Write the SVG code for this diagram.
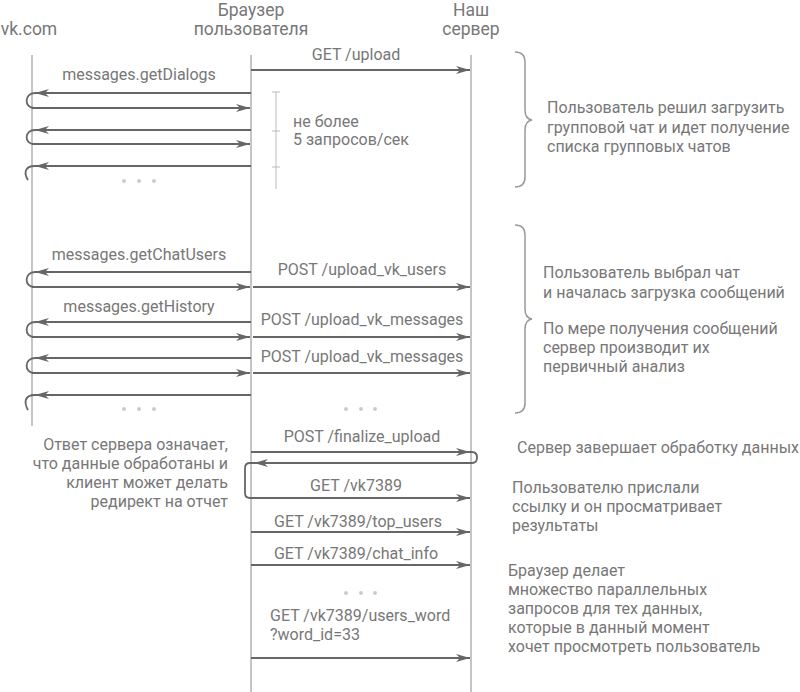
<svg xmlns="http://www.w3.org/2000/svg" width="800" height="692" viewBox="0 0 800 692">
<style>
text{font-family:Roboto,"Liberation Sans",sans-serif;fill:#777;font-size:16px}
.hd{font-size:17.5px}
.life{stroke:#8a8a8a;stroke-width:1;fill:none}
.ar{stroke:#666;stroke-width:1.8;fill:none}
.cu{stroke:#666;stroke-width:1.8;fill:none}
.tick{stroke:#bbb;stroke-width:1;fill:none}
.br{stroke:#999;stroke-width:1.5;fill:none}
.dot{fill:#ccc}
.m{text-anchor:middle}
.e{text-anchor:end}
</style>
<defs>
<marker id="ah" viewBox="0 0 14 8" refX="14" refY="4" markerWidth="14" markerHeight="8" markerUnits="userSpaceOnUse" orient="auto"><path d="M0,0 L14,4 L0,8 L4,4 z" fill="#666"/></marker>
</defs>
<g id="vk"><text class="hd m" x="29" y="35">vk.com</text><line class="life" x1="32" y1="55" x2="32" y2="426"/></g>
<g id="browser"><text class="hd m" x="251" y="16">Браузер</text><text class="hd m" x="251" y="35">пользователя</text><line class="life" x1="251" y1="55" x2="251" y2="692"/></g>
<g id="server"><text class="hd m" x="471" y="16">Наш</text><text class="hd m" x="471" y="35">сервер</text><line class="life" x1="471" y1="55" x2="471" y2="692"/></g>
<g id="connectors">
<path class="ar" d="M251,70 H470" marker-end="url(#ah)"/>
<path class="ar" d="M251,93 H35" marker-end="url(#ah)"/>
<path class="cu" d="M35,93 C24,93 24,108 34,108"/>
<path class="ar" d="M32,108 H250" marker-end="url(#ah)"/>
<path class="ar" d="M251,130 H35" marker-end="url(#ah)"/>
<path class="cu" d="M35,130 C24,130 24,144 34,144"/>
<path class="ar" d="M32,144 H250" marker-end="url(#ah)"/>
<path class="ar" d="M251,166 H35" marker-end="url(#ah)"/>
<path class="cu" d="M35,166 C24,166 24,174 28,180"/>
<path class="ar" d="M251,272 H35" marker-end="url(#ah)"/>
<path class="cu" d="M35,272 C24,272 24,287 34,287"/>
<path class="ar" d="M32,287 H250" marker-end="url(#ah)"/>
<path class="ar" d="M253,287 H470" marker-end="url(#ah)"/>
<path class="ar" d="M251,322 H35" marker-end="url(#ah)"/>
<path class="cu" d="M35,322 C24,322 24,337 34,337"/>
<path class="ar" d="M32,337 H250" marker-end="url(#ah)"/>
<path class="ar" d="M253,337 H470" marker-end="url(#ah)"/>
<path class="ar" d="M251,358 H35" marker-end="url(#ah)"/>
<path class="cu" d="M35,358 C24,358 24,373 34,373"/>
<path class="ar" d="M32,373 H250" marker-end="url(#ah)"/>
<path class="ar" d="M253,373 H470" marker-end="url(#ah)"/>
<path class="ar" d="M251,395 H35" marker-end="url(#ah)"/>
<path class="cu" d="M35,395 C24,395 24,403 28,410"/>
<path class="ar" d="M251,452 H470" marker-end="url(#ah)"/>
<path class="cu" d="M470,452 H472 Q477,452 477,457.5 Q477,463 472,463 H470"/>
<path class="ar" d="M471,463 H254" marker-end="url(#ah)"/>
<path class="ar" d="M254,463 H250 Q245,463 245,468 V493 Q245,498 250,498 H470" marker-end="url(#ah)"/>
<path class="ar" d="M251,532 H470" marker-end="url(#ah)"/>
<path class="ar" d="M251,565 H470" marker-end="url(#ah)"/>
<path class="ar" d="M251,658 H470" marker-end="url(#ah)"/>
</g>
<g id="labels">
<text class="m" x="356" y="60">GET /upload</text>
<text class="m" x="139" y="80">messages.getDialogs</text>
<text class="m" x="139" y="260">messages.getChatUsers</text>
<text class="m" x="362" y="275">POST /upload_vk_users</text>
<text class="m" x="139" y="312">messages.getHistory</text>
<text class="m" x="362" y="325">POST /upload_vk_messages</text>
<text class="m" x="362" y="362">POST /upload_vk_messages</text>
<text class="m" x="362" y="442">POST /finalize_upload</text>
<text class="m" x="356" y="491">GET /vk7389</text>
<text class="m" x="358" y="527">GET /vk7389/top_users</text>
<text class="m" x="356" y="559">GET /vk7389/chat_info</text>
<text x="270" y="621">GET /vk7389/users_word</text>
<text x="270" y="640">?word_id=33</text>
</g>
<g id="rate">
<path class="tick" d="M276,92 V189 M272,92 H280 M272,131 H280 M272,167 H280"/>
<text x="293" y="127">не более</text>
<text x="293" y="145">5 запросов/сек</text>
</g>
<g id="dots">
<circle class="dot" cx="124" cy="181" r="2"/><circle class="dot" cx="139" cy="181" r="2"/><circle class="dot" cx="154" cy="181" r="2"/>
<circle class="dot" cx="124" cy="409" r="2"/><circle class="dot" cx="139" cy="409" r="2"/><circle class="dot" cx="154" cy="409" r="2"/>
<circle class="dot" cx="346" cy="409" r="2"/><circle class="dot" cx="361" cy="409" r="2"/><circle class="dot" cx="375" cy="409" r="2"/>
<circle class="dot" cx="346" cy="593" r="2"/><circle class="dot" cx="361" cy="593" r="2"/><circle class="dot" cx="375" cy="593" r="2"/>
</g>
<g id="note1">
<path class="br" d="M515,52 Q525,52 525,62 V110 Q525,119 532,120 Q525,121 525,130 V177 Q525,187 515,187"/>
<text x="547" y="113">Пользователь решил загрузить</text>
<text x="547" y="133">групповой чат и идет получение</text>
<text x="547" y="152">списка групповых чатов</text>
</g>
<g id="note2">
<path class="br" d="M515,225 Q525,225 525,235 V309 Q525,318 532,319 Q525,320 525,329 V403 Q525,413 515,413"/>
<text x="543" y="278">Пользователь выбрал чат</text>
<text x="543" y="298">и началась загрузка сообщений</text>
<text x="543" y="334">По мере получения сообщений</text>
<text x="543" y="353">сервер производит их</text>
<text x="543" y="372">первичный анализ</text>
</g>
<g id="note3">
<text class="e" x="228" y="450">Ответ сервера означает,</text>
<text class="e" x="228" y="469">что данные обработаны и</text>
<text class="e" x="228" y="488">клиент может делать</text>
<text class="e" x="228" y="507">редирект на отчет</text>
</g>
<g id="note4"><text x="517" y="453">Сервер завершает обработку данных</text></g>
<g id="note5">
<text x="512" y="493">Пользователю прислали</text>
<text x="512" y="512">ссылку и он просматривает</text>
<text x="512" y="531">результаты</text>
</g>
<g id="note6">
<text x="508" y="576">Браузер делает</text>
<text x="508" y="595">множество параллельных</text>
<text x="508" y="614">запросов для тех данных,</text>
<text x="508" y="633">которые в данный момент</text>
<text x="508" y="652">хочет просмотреть пользователь</text>
</g>
</svg>
